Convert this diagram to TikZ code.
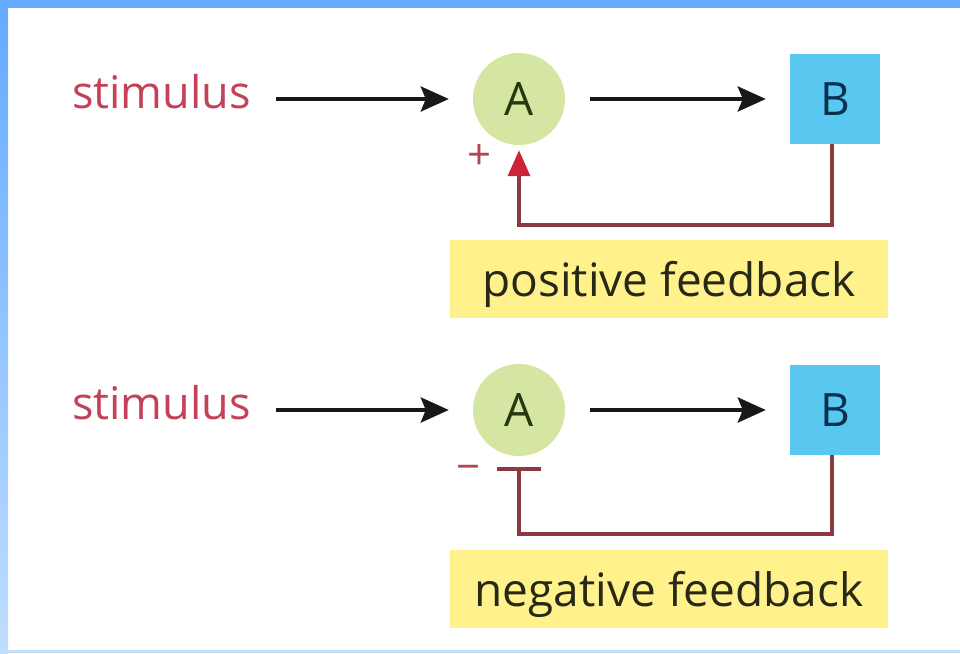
\documentclass[tikz,border=0pt]{standalone}
\usepackage{fontspec}
\setmainfont{Open Sans}
\usetikzlibrary{arrows.meta}

\definecolor{frametop}{RGB}{100,170,255}
\definecolor{framelow}{RGB}{192,222,255}
\definecolor{stimred}{RGB}{196,66,88}
\definecolor{agreen}{RGB}{212,230,162}
\definecolor{atext}{RGB}{38,56,14}
\definecolor{bblue}{RGB}{88,200,240}
\definecolor{btext}{RGB}{10,48,80}
\definecolor{fbred}{RGB}{140,58,66}
\definecolor{tipred}{RGB}{206,36,58}
\definecolor{signred}{RGB}{176,70,86}
\definecolor{labelyellow}{RGB}{255,242,140}
\definecolor{labeltext}{RGB}{40,40,22}

\tikzset{
  bigfont/.style={font=\fontsize{46}{55}\selectfont},
  stimtext/.style={text=stimred, inner sep=0pt, anchor=base west, font=\fontsize{45}{54}\selectfont},
  anode/.style={circle, fill=agreen, minimum size=92pt, inner sep=0pt, bigfont, text=atext},
  bnode/.style={rectangle, fill=bblue, minimum width=90pt, minimum height=90pt, inner sep=0pt, bigfont, text=btext},
  flow/.style={line width=4pt, draw={rgb,255:red,24;green,24;blue,24},
    -{Stealth[length=28pt, width=25pt, inset=5pt]}, shorten <=25pt, shorten >=24pt},
  fbline/.style={line width=3.5pt, draw=fbred, line join=miter},
  fbplus/.style={fbline, -{Triangle[length=26pt, width=22pt, color=tipred]}},
  fbminus/.style={fbline, -{Bar[width=44pt]}},
  tag/.style={rectangle, fill=labelyellow, minimum width=438pt, minimum height=78pt,
    inner sep=0pt, text depth=0pt, bigfont, text=labeltext},
  sign/.style={inner sep=0pt, text=signred, font=\fontsize{42}{50}\selectfont}
}

\begin{document}
\begin{tikzpicture}[x=1pt, y=-1pt]
\useasboundingbox (0,0) rectangle (960,653);
\fill[white] (0,0) rectangle (960,653);

% window frame
\shade[top color=frametop, bottom color=framelow] (0,0) rectangle (8,653);
\fill[frametop] (0,0) rectangle (960,8);
\fill[framelow] (0,650) rectangle (960,653);

% positive feedback loop
\node[stimtext] (s1) at (72,108) {stimulus};
\node[anode] (a1) at (519,99) {A};
\node[bnode] (b1) at (835,99) {B};
\draw[flow] (s1.east |- a1.west) -- (a1.west);
\draw[flow] (a1.east) -- (b1.west);
\draw[fbplus, shorten >=5pt] (b1.south) ++(-3,0) coordinate (b1o) (b1o) -- ++(0,81) -| (a1.south);
\node[sign] (plus) at (479,157) {+};
\node[tag] (t1) at (669,279) {positive feedback};

% negative feedback loop
\node[stimtext] (s2) at (72,419) {stimulus};
\node[anode] (a2) at (519,410) {A};
\node[bnode] (b2) at (835,410) {B};
\draw[flow] (s2.east |- a2.west) -- (a2.west);
\draw[flow] (a2.east) -- (b2.west);
\draw[fbminus, shorten >=11pt] (b2.south) ++(-3,0) coordinate (b2o) (b2o) -- ++(0,79) -| (a2.south);
\node[sign] (minus) at (469,473) {−};
\node[tag] (t2) at (669,589) {negative feedback};
\end{tikzpicture}
\end{document}
